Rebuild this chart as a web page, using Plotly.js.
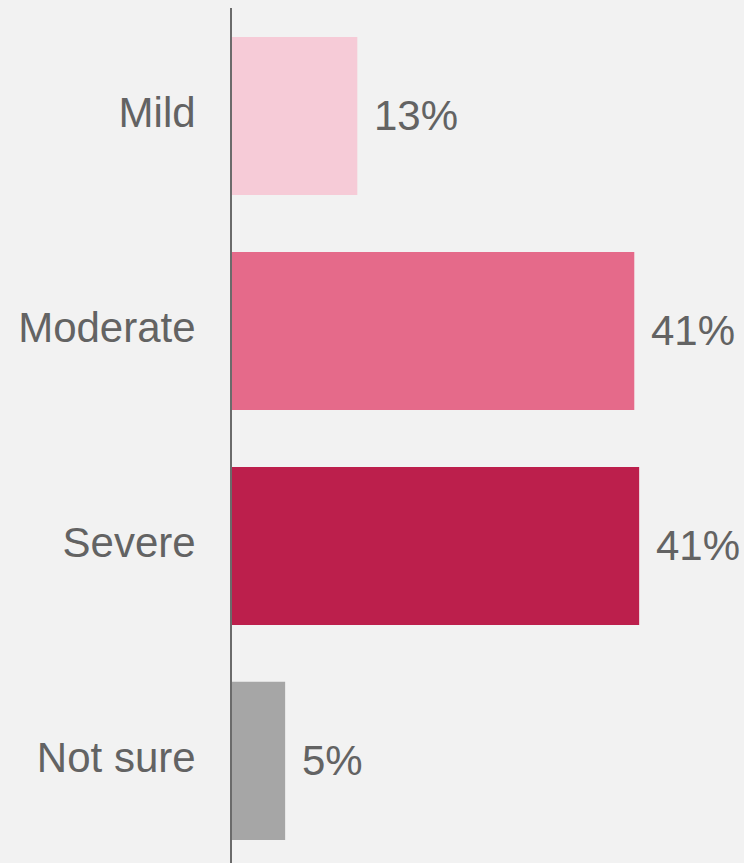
<!DOCTYPE html>
<html><head><meta charset="utf-8">
<script src="https://cdn.plot.ly/plotly-3.0.1.min.js"></script>
<style>html,body{margin:0;padding:0;background:#F2F2F2;}#chart{width:744px;height:863px;}</style>
</head><body><div id="chart"></div>
<script>
const categories = ["Mild", "Moderate", "Severe", "Not sure"];
const values = [12.85, 41.25, 41.75, 5.45];
const valueLabels = ["13%", "41%", "41%", "5%"];
const barColors = ["#F6CBD7", "#E56A8A", "#BC1F4C", "#A6A6A6"];

const trace = {
  type: "bar", orientation: "h",
  x: values, y: categories,
  marker: {color: barColors},
  hoverinfo: "none"
};
const annotations = categories.map((c, i) => ({
  x: values[i], y: c, xref: "x", yref: "y",
  text: valueLabels[i], showarrow: false,
  xanchor: "left", yanchor: "middle", xshift: 15,
  font: {family: "Liberation Sans, Arial, sans-serif", size: 42, color: "#636363"}
}));
const layout = {
  width: 744, height: 863,
  margin: {l: 232, r: 0, t: 8, b: 0},
  paper_bgcolor: "#F2F2F2", plot_bgcolor: "#F2F2F2",
  bargap: 0.265,
  showlegend: false,
  xaxis: {range: [0, 52.5], showgrid: false, zeroline: false, showline: false, showticklabels: false, fixedrange: true},
  yaxis: {
    type: "category", range: [3.475, -0.502],
    showgrid: false, zeroline: false, showline: true, linecolor: "#6b6b6b", linewidth: 2,
    ticks: "", ticklabelstandoff: 26, ticklabelshift: 4,
    tickfont: {family: "Liberation Sans, Arial, sans-serif", size: 42, color: "#636363"},
    fixedrange: true
  },
  annotations: annotations
};
Plotly.newPlot("chart", [trace], layout, {displayModeBar: false, staticPlot: true});
</script></body></html>
